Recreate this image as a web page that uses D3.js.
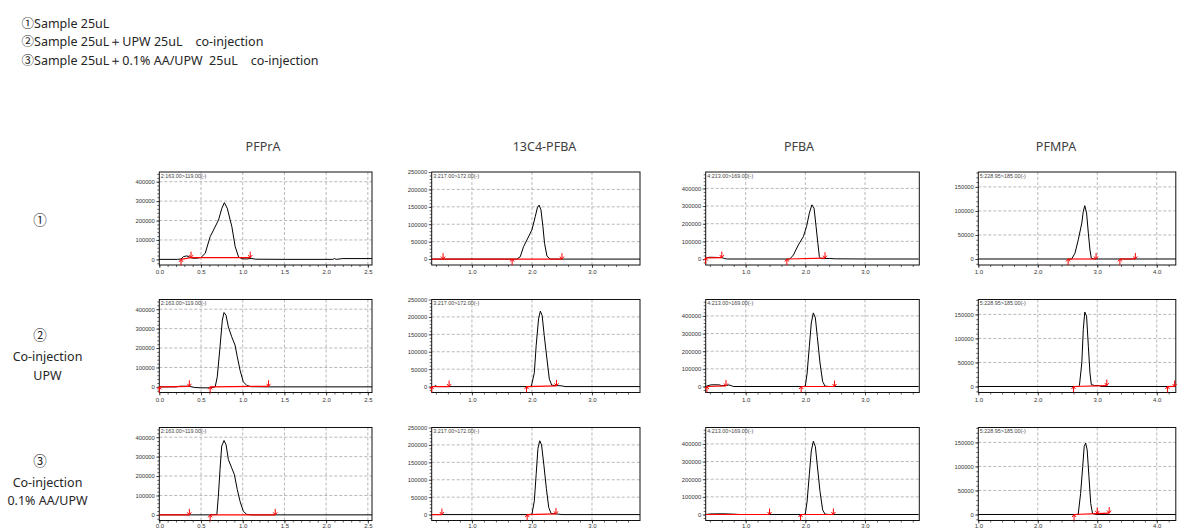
<!DOCTYPE html>
<html>
<head>
<meta charset="utf-8">
<script src="https://cdn.jsdelivr.net/npm/d3@7"></script>
<style>
  body { margin: 0; background: #fff; }
  svg { display: block; }
</style>
</head>
<body>
<svg id="chart" width="1177" height="529"></svg>
<script>
// ---- data ----
const headerLines = [
  "①Sample 25uL",
  "②Sample 25uL＋UPW 25uL    co-injection",
  "③Sample 25uL＋0.1% AA/UPW  25uL    co-injection"
]
const compounds = ["PFPrA", "13C4-PFBA", "PFBA", "PFMPA"]
const transitions = ["2:163.00>119.00(-)", "3:217.00>172.00(-)", "4:213.00>169.00(-)", "5:228.95>185.00(-)"]
const rowLabels = [["①"], ["②", "Co-injection", "UPW"], ["③", "Co-injection", "0.1% AA/UPW"]]

// x ticks (min) and y ticks (intensity) per compound
const xTicks = [[0, 0.5, 1.0, 1.5, 2.0, 2.5], [1.0, 2.0, 3.0], [1.0, 2.0, 3.0], [1.0, 2.0, 3.0, 4.0]]
const yTicks = [[0, 100000, 200000, 300000, 400000], [0, 50000, 100000, 150000, 200000, 250000],
                [0, 100000, 200000, 300000, 400000], [0, 50000, 100000, 150000]]
const xDomains = [[0, 2.55], [0.33, 3.8], [0.33, 3.91], [1.0, 4.32]]
const yDomains = [[-29000, 450000], [-17000, 250000], [-34000, 493000], [-12500, 181000]]

// chromatograms: [time (min), intensity]
const pfpra1 = [[0,0],[0.22,0],[0.26,2000],[0.29,14000],[0.33,18000],[0.37,10000],[0.4,6000],[0.45,6000],[0.5,10000],[0.55,31000],[0.61,117000],[0.65,151000],[0.71,203000],[0.75,263000],[0.78,292000],[0.815,263000],[0.87,168000],[0.91,65000],[0.95,13000],[0.99,3000],[1.05,2000],[1.1,5000],[1.15,1000],[1.5,0],[2.08,0],[2.1,4000],[2.12,0],[2.2,4000],[2.55,4000]]
const pfpra2 = [[0,0],[0.2,0],[0.25,3000],[0.33,3000],[0.37,2000],[0.42,-3000],[0.5,-5000],[0.6,-5000],[0.67,0],[0.695,51500],[0.728,206000],[0.756,344000],[0.776,383000],[0.8,369000],[0.828,309000],[0.868,258000],[0.908,215000],[0.935,155000],[0.968,86000],[1.007,26000],[1.05,7000],[1.1,1000],[1.3,0],[2.55,0]]
const pfpra3 = [[0,0],[0.6,0],[0.69,2000],[0.708,96000],[0.728,233000],[0.748,354000],[0.776,383000],[0.8,362000],[0.828,285000],[0.868,242000],[0.9,208000],[0.935,130000],[0.968,70000],[1.007,18500],[1.047,3000],[1.1,0],[2.55,0]]
const c13pfba1 = [[0.33,0],[1.75,0],[1.805,6700],[1.86,35500],[1.917,55000],[2.0,84000],[2.055,122000],[2.093,149000],[2.12,155000],[2.15,141600],[2.183,93000],[2.21,45000],[2.25,8700],[2.3,0],[3.8,0]]
const c13pfba2 = [[0.33,0],[0.37,0],[0.39,3000],[0.42,0],[1.95,0],[1.99,1000],[2.04,40000],[2.07,117000],[2.11,194500],[2.14,216700],[2.17,204000],[2.205,146000],[2.25,79000],[2.29,21000],[2.33,4000],[2.4,3000],[2.5,2000],[2.55,0],[3.8,0]]
const c13pfba3 = [[0.33,0],[1.95,0],[2.0,1000],[2.04,40000],[2.07,115000],[2.1,190000],[2.13,212000],[2.16,200000],[2.2,140000],[2.24,75000],[2.28,20000],[2.32,3000],[2.4,2000],[2.5,0],[3.8,0]]
const pfba1 = [[0.33,0],[0.35,8000],[0.4,10000],[0.5,9000],[0.6,8000],[0.65,2000],[0.7,0],[1.74,0],[1.8,22700],[1.883,79500],[1.967,127000],[2.02,183500],[2.067,259600],[2.11,306800],[2.146,288000],[2.18,183500],[2.21,89000],[2.235,13000],[2.26,2000],[2.4,3000],[2.5,1000],[3.0,0],[3.9,0]]
const pfba2 = [[0.33,0],[0.37,5000],[0.42,9500],[0.55,9500],[0.6,5000],[0.68,6000],[0.72,9000],[0.77,3000],[0.8,0],[1.97,0],[2.0,3000],[2.03,76000],[2.067,227000],[2.1,360000],[2.134,417000],[2.168,388600],[2.2,284000],[2.246,133000],[2.29,28000],[2.33,2000],[2.4,0],[3.9,0]]
const pfba3 = [[0.33,0],[0.4,3000],[0.6,4000],[0.8,2000],[0.9,0],[1.97,0],[2.0,3000],[2.03,76000],[2.067,227000],[2.1,360000],[2.134,415000],[2.168,385000],[2.2,280000],[2.246,130000],[2.29,26000],[2.33,2000],[2.4,0],[3.9,0]]
const pfmpa1 = [[1.0,0],[2.57,0],[2.625,12000],[2.68,39700],[2.74,74700],[2.765,99000],[2.79,110900],[2.82,95600],[2.85,53800],[2.877,18800],[2.9,1400],[2.95,0],[4.32,0]]
const pfmpa2 = [[1.0,0],[2.68,0],[2.7,2000],[2.74,49000],[2.765,118600],[2.79,154800],[2.82,146400],[2.85,83700],[2.877,28000],[2.9,4000],[2.95,2000],[3.03,2000],[3.06,0],[4.32,0]]
const pfmpa3 = [[1.0,0],[2.66,0],[2.68,1000],[2.72,44000],[2.755,99600],[2.78,141400],[2.805,148500],[2.83,134500],[2.86,78700],[2.89,23000],[2.92,2000],[2.98,0],[4.32,0]]

// integration baselines: segments of [time, intensity] pairs
const base1 = [[[[0.26,0],[0.38,9000],[1.09,9000]]], [[[0.33,0],[2.5,0]]], [[[0.33,6000],[0.6,8000]], [[1.69,0],[2.33,5000]]], [[[2.51,0],[2.98,0]], [[3.38,0],[3.64,0]]]]
const base2 = [[[[0,0],[0.36,3000]], [[0.61,0],[1.31,3000]]], [[[0.33,0],[0.62,0]], [[1.91,0],[2.41,2000]]], [[[0.35,0],[0.67,3000]], [[1.93,0],[2.49,0]]], [[[2.6,0],[3.16,2000]], [[4.18,0],[4.3,0]]]]
const base3 = [[[[0,0],[0.36,0]], [[0.61,0],[1.39,0]]], [[[0.33,0],[0.5,0]], [[1.92,0],[2.4,2000]]], [[[0.33,0],[1.4,0]], [[1.92,0],[2.47,0]]], [[[2.61,0],[3.0,2000],[3.2,3000]]]]
// peak markers: [time, intensity, direction]
const mark1 = [[[0.26,0,"u"],[0.38,9000,"d"],[1.09,9000,"d"]], [[0.52,0,"d"],[1.67,0,"u"],[2.5,0,"d"]], [[0.33,6000,"u"],[0.6,8000,"d"],[1.69,0,"u"],[2.33,5000,"d"]], [[2.51,0,"u"],[2.98,0,"d"],[3.38,0,"u"],[3.64,0,"d"]]]
const mark2 = [[[0,0,"u"],[0.36,3000,"d"],[0.61,0,"u"],[1.31,3000,"d"]], [[0.33,0,"u"],[0.62,0,"d"],[1.91,0,"u"],[2.41,2000,"d"]], [[0.35,0,"u"],[0.67,3000,"d"],[1.93,0,"u"],[2.49,0,"d"]], [[2.6,0,"u"],[3.16,2000,"d"],[4.18,0,"u"],[4.3,0,"d"]]]
const mark3 = [[[0.36,0,"d"],[0.61,0,"u"],[1.39,0,"d"]], [[0.5,0,"d"],[1.92,0,"u"],[2.4,2000,"d"]], [[1.4,0,"d"],[1.92,0,"u"],[2.47,0,"d"]], [[2.61,0,"u"],[3.0,2000,"d"],[3.2,3000,"d"]]]

const traces = [[pfpra1, c13pfba1, pfba1, pfmpa1], [pfpra2, c13pfba2, pfba2, pfmpa2], [pfpra3, c13pfba3, pfba3, pfmpa3]]
const baselines = [base1, base2, base3]
const markers = [mark1, mark2, mark3]

// ---- layout ----
const colX = [[159.3, 372], [431.7, 640], [705.7, 919.3], [978.3, 1175.8]]
const titleX = [263, 544.5, 799, 1056]
const rowTop = [172, 299.5, 427.5]
const boxH = 93
const xMinor = [0.1, 0.2, 0.2, 0.2]
const yMinor = [20000, 10000, 20000, 10000]
const textFont = "'Noto Sans', 'Open Sans', sans-serif"
const cjkFont = "'Noto Sans CJK JP', 'Noto Sans', sans-serif"
const tickFont = "'Liberation Sans', Arial, sans-serif"

const svg = d3.select('#chart')

// header: circled digit in a CJK face, rest in the text face
const header = svg.append('g').selectAll('text')
  .data(headerLines)
  .join('text')
  .attr('x', 21.5)
  .attr('y', (d, i) => 27.5 + i * 18.5)
  .attr('font-family', textFont)
  .attr('font-size', 12.5)
  .attr('fill', '#262626')
  .style('white-space', 'pre')
header.append('tspan').attr('font-family', cjkFont).text(d => d[0])
header.append('tspan').text(d => d.slice(1))

// compound titles
svg.append('g').selectAll('text')
  .data(compounds)
  .join('text')
  .attr('x', (d, i) => titleX[i])
  .attr('y', 151)
  .attr('text-anchor', 'middle')
  .attr('font-family', textFont)
  .attr('font-size', 12.5)
  .attr('fill', '#404040')
  .text(d => d)

// row labels
const rowLabelY = [[220], [335, 356.5, 375], [461.5, 482, 500]]
rowLabels.forEach((lines, r) => {
  svg.append('g').selectAll('text')
    .data(lines)
    .join('text')
    .attr('x', (d, i) => i == 0 ? 40 : 47.5)
    .attr('y', (d, i) => rowLabelY[r][i] + 4.5)
    .attr('text-anchor', 'middle')
    .attr('font-family', (d, i) => i == 0 ? cjkFont : textFont)
    .attr('font-size', (d, i) => i == 0 ? 13.5 : 12.5)
    .attr('fill', '#262626')
    .text(d => d)
})

const fmtX = d3.format('.1f')

for (let r = 0; r < 3; r++) {
  for (let c = 0; c < 4; c++) {
    const x = d3.scaleLinear().domain(xDomains[c]).range(colX[c])
    const y = d3.scaleLinear().domain(yDomains[c]).range([rowTop[r] + boxH, rowTop[r]])
    const g = svg.append('g')
    const x0 = colX[c][0], x1 = colX[c][1], top = rowTop[r], bottom = rowTop[r] + boxH

    // grid
    g.append('g').selectAll('line')
      .data(xTicks[c].filter(t => t > xDomains[c][0] + 0.01))
      .join('line')
      .attr('x1', d => x(d)).attr('x2', d => x(d))
      .attr('y1', top).attr('y2', bottom)
      .attr('stroke', '#a6a6a6').attr('stroke-width', 0.8).attr('stroke-dasharray', '3,2')
    g.append('g').selectAll('line')
      .data(yTicks[c].filter(t => t > 0 && y(t) > top + 1))
      .join('line')
      .attr('x1', x0).attr('x2', x1)
      .attr('y1', d => y(d)).attr('y2', d => y(d))
      .attr('stroke', '#a6a6a6').attr('stroke-width', 0.8).attr('stroke-dasharray', '3,2')

    // axes
    const xMinorTicks = d3.range(Math.ceil(xDomains[c][0] / xMinor[c]) * xMinor[c], xDomains[c][1], xMinor[c])
    g.append('g').attr('transform', `translate(0,${bottom})`)
      .call(d3.axisBottom(x).tickValues(xMinorTicks).tickFormat('').tickSize(2))
      .call(a => a.select('.domain').remove())
    // bottom row sits at the page edge: pull its labels up a little so they stay inside
    g.append('g').attr('transform', `translate(0,${bottom})`)
      .call(d3.axisBottom(x).tickValues(xTicks[c]).tickFormat(fmtX).tickSize(3).tickPadding(r == 2 ? 0 : 2))
      .call(a => a.select('.domain').remove())
      .call(a => a.selectAll('text').attr('font-size', 6).attr('font-family', tickFont).attr('fill', '#333'))

    const yMinorTicks = d3.range(Math.ceil(yDomains[c][0] / yMinor[c]) * yMinor[c], yDomains[c][1], yMinor[c])
    g.append('g').attr('transform', `translate(${x0},0)`)
      .call(d3.axisLeft(y).tickValues(yMinorTicks).tickFormat('').tickSize(2))
      .call(a => a.select('.domain').remove())
    g.append('g').attr('transform', `translate(${x0},0)`)
      .call(d3.axisLeft(y).tickValues(yTicks[c]).tickFormat(d3.format('d')).tickSize(3).tickPadding(1.5))
      .call(a => a.select('.domain').remove())
      .call(a => a.selectAll('text').attr('font-size', 5.8).attr('font-family', tickFont).attr('fill', '#333'))
    g.selectAll('.tick line').attr('stroke', '#222').attr('stroke-width', 0.7)

    // frame
    g.append('rect')
      .attr('x', x0).attr('y', top)
      .attr('width', x1 - x0).attr('height', boxH)
      .attr('fill', 'none').attr('stroke', '#111').attr('stroke-width', 1)

    // transition label
    g.append('text')
      .attr('x', x0 + 1.5).attr('y', top + 5.5)
      .attr('font-family', tickFont).attr('font-size', 5.4).attr('fill', '#444')
      .text(transitions[c])

    // chromatogram
    const line = d3.line().x(d => x(d[0])).y(d => y(d[1]))
    g.append('path')
      .datum(traces[r][c])
      .attr('d', line)
      .attr('fill', 'none').attr('stroke', '#000').attr('stroke-width', 1)

    // baselines
    g.append('g').selectAll('path')
      .data(baselines[r][c])
      .join('path')
      .attr('d', line)
      .attr('fill', 'none').attr('stroke', '#ff0000').attr('stroke-width', 1.2)

    // markers
    const mk = g.append('g').selectAll('g')
      .data(markers[r][c])
      .join('g')
      .attr('transform', d => `translate(${x(d[0])},${y(d[1])})`)
    mk.append('line')
      .attr('x1', 0).attr('x2', 0)
      .attr('y1', d => d[2] == 'd' ? -6 : 6).attr('y2', 0)
      .attr('stroke', '#ff0000').attr('stroke-width', 1)
    mk.append('path')
      .attr('d', d => d[2] == 'd' ? 'M-2,-2.5L0,0L2,-2.5' : 'M-2,2.5L0,0L2,2.5')
      .attr('fill', 'none').attr('stroke', '#ff0000').attr('stroke-width', 1)
  }
}
</script>
</body>
</html>
